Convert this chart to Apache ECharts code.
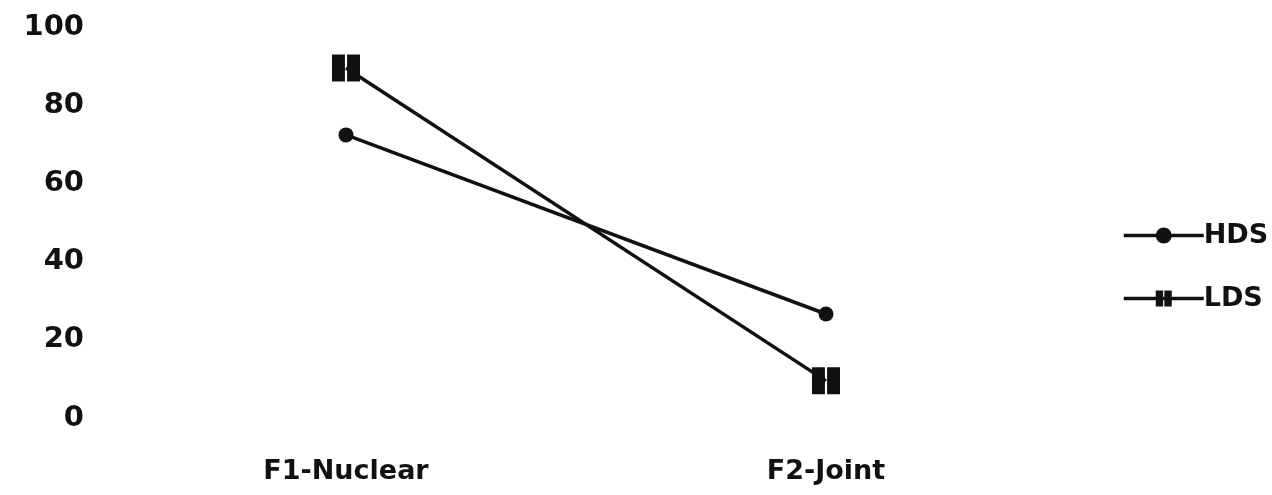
<!DOCTYPE html>
<html>
<head>
<meta charset="utf-8">
<script src="https://cdn.jsdelivr.net/npm/echarts@6/dist/echarts.min.js"></script>
<style>html,body{margin:0;padding:0;background:#fff;}#c{width:1272px;height:495px;}</style>
</head>
<body>
<div id="c"></div>
<script>
const categories = ['F1-Nuclear', 'F2-Joint'];
const hdsValues = [72.4, 26.6];
const ldsValues = [89.5, 9.5];
const yTicks = [0, 20, 40, 60, 80, 100];

const chart = echarts.init(document.getElementById('c'));
const font = 'DejaVu Sans';
const squareSym = 'path://M0,0H12V26H0Z M14,0H26V26H14Z';
chart.setOption({
  animation: false,
  backgroundColor: '#fff',
  grid: {left: 106, right: 206, top: 27, bottom: 77, containLabel: false},
  legend: {
    orient: 'vertical',
    left: 1117, top: 217,
    itemGap: 36,
    itemWidth: 80, itemHeight: 20,
    lineStyle: {width: 3.5},
    textStyle: {fontFamily: font, fontWeight: 'bold', fontSize: 27, color: '#111', padding: [0,0,0,-5]},
    data: ['HDS', 'LDS']
  },
  xAxis: {
    type: 'category',
    data: categories,
    boundaryGap: true,
    axisLine: {show: false},
    axisTick: {show: false},
    axisLabel: {fontFamily: font, fontWeight: 'bold', fontSize: 27, color: '#111', margin: 40}
  },
  yAxis: {
    type: 'value',
    min: 0, max: 100, interval: 20,
    splitLine: {show: false},
    axisLine: {show: false},
    axisTick: {show: false},
    axisLabel: {fontFamily: font, fontWeight: 'bold', fontSize: 29, color: '#111', margin: 22,
      formatter: v => yTicks.includes(v) ? String(v) : ''}
  },
  series: [
    {name: 'HDS', type: 'line', data: hdsValues, symbol: 'circle', symbolSize: 15,
     lineStyle: {color: '#111', width: 3.5}, itemStyle: {color: '#111'}},
    {name: 'LDS', type: 'line', data: ldsValues, symbol: squareSym, symbolSize: [28, 27],
     symbolKeepAspect: false,
     lineStyle: {color: '#111', width: 3.5}, itemStyle: {color: '#111'}}
  ]
});
</script>
</body>
</html>
